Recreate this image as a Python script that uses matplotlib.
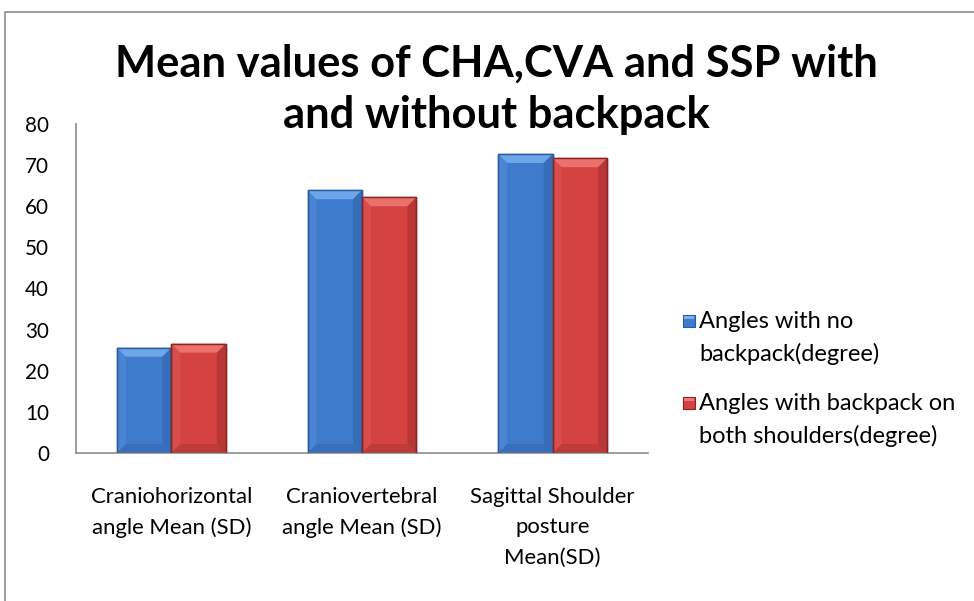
import matplotlib
matplotlib.use("Agg")
import matplotlib.pyplot as plt
from matplotlib.patches import Polygon, Rectangle
import numpy as np

categories = ["Craniohorizontal\nangle Mean (SD)", "Craniovertebral\nangle Mean (SD)", "Sagittal Shoulder\nposture\nMean(SD)"]
no_backpack = [25.6, 63.9, 72.7]
with_backpack = [26.6, 62.2, 71.7]
series_names = ["Angles with no\nbackpack(degree)", "Angles with backpack on\nboth shoulders(degree)"]
yticks = [0, 10, 20, 30, 40, 50, 60, 70, 80]
title_lines = ["Mean values of CHA,CVA and SSP with", "and without backpack"]

plt.rcParams['font.family'] = ['Lato', 'DejaVu Sans']

W, H = 974, 601
fig = plt.figure(figsize=(W/100, H/100), dpi=100)
fig.canvas.draw()
R = fig.canvas.get_renderer()

def fy(py):  # pixel from top -> figure fraction
    return 1 - py / H

def width_px(s, fs, weight='normal'):
    t = fig.text(0, 0, s, fontsize=fs, fontweight=weight)
    w = t.get_window_extent(R).width
    t.remove()
    return w

def fit_size(s, target, weight='normal'):
    return 20 * target / width_px(s, 20, weight)

def line_metrics(fs):
    t1 = fig.text(0, 0, "Ag", fontsize=fs)
    t2 = fig.text(0, 0, "Ag\nAg", fontsize=fs, linespacing=1.0)
    h1 = t1.get_window_extent(R).height
    h2 = t2.get_window_extent(R).height
    t1.remove(); t2.remove()
    return h1, h2 - h1

# outer frame
fig.patches.append(Rectangle((5/W, -0.2), 1.2, 1.2 - 12/H, transform=fig.transFigure,
                             fill=False, edgecolor='#8c8c8c', linewidth=1.2))

ax = fig.add_axes([76/W, fy(453), (648-76)/W, (453-124)/H])
ax.set_xlim(-0.5, 2.5)
ax.set_ylim(0, 80)

bw = 1/3.5
x = np.arange(len(categories))

cols = [dict(main='#3f7bcc', light='#77aef0', dark='#2a569a', edge='#2b5aa0'),
        dict(main='#d44341', light='#f07a76', dark='#8f2624', edge='#8a2422')]

def draw_bevel(ax, x0, w, h, c):
    ax.add_patch(Rectangle((x0, 0), w, h, facecolor=c['main'], edgecolor=c['edge'], linewidth=1.0, zorder=2))
    bp = 9
    inv = ax.transData.inverted()
    p0 = inv.transform(ax.transData.transform((0, 0)))
    p1 = inv.transform(ax.transData.transform((0, 0)) + np.array([bp, bp]))
    dx, dy = p1 - p0
    top = [(x0, h), (x0 + w, h), (x0 + w - dx, h - dy), (x0 + dx, h - dy)]
    left = [(x0, 0), (x0, h), (x0 + dx, h - dy), (x0 + dx, dy)]
    right = [(x0 + w, 0), (x0 + w, h), (x0 + w - dx, h - dy), (x0 + w - dx, dy)]
    bottom = [(x0, 0), (x0 + w, 0), (x0 + w - dx, dy), (x0 + dx, dy)]
    ax.add_patch(Polygon(top, closed=True, facecolor=c['light'], edgecolor='none', alpha=0.85, zorder=3))
    ax.add_patch(Polygon(left, closed=True, facecolor=c['light'], edgecolor='none', alpha=0.2, zorder=3))
    ax.add_patch(Polygon(right, closed=True, facecolor=c['dark'], edgecolor='none', alpha=0.4, zorder=3))
    ax.add_patch(Polygon(bottom, closed=True, facecolor=c['dark'], edgecolor='none', alpha=0.3, zorder=3))
    ax.add_patch(Rectangle((x0, 0), w, h, facecolor='none', edgecolor=c['edge'], linewidth=1.0, zorder=4))

for i in range(len(categories)):
    draw_bevel(ax, x[i] - bw, bw, no_backpack[i], cols[0])
    draw_bevel(ax, x[i], bw, with_backpack[i], cols[1])

for s in ['top', 'right']:
    ax.spines[s].set_visible(False)
for s in ['left', 'bottom']:
    ax.spines[s].set_color('#8c8c8c')
    ax.spines[s].set_linewidth(1.2)

# y tick labels: "80" about 24 px wide, right edge ~27 px left of axis
fs_y = fit_size("80", 24)
ax.set_yticks(yticks)
ax.set_yticklabels([str(v) for v in yticks], fontsize=fs_y)
ax.tick_params(axis='y', length=0, pad=27 * 0.72)

# category labels: "Craniohorizontal" ~162 px wide, lines ~33 px apart, first line centred ~497
fs_x = fit_size("Craniohorizontal", 162)
h1, step = line_metrics(fs_x)
ls_x = 33 / step
ax.set_xticks(x)
ax.set_xticklabels(categories, fontsize=fs_x, linespacing=ls_x, va='top')
pad_px = 497 - h1 / 2 - 453
ax.tick_params(axis='x', length=0, pad=pad_px * 0.72)

# title: first line ~763 px wide, centred at x~496, baselines ~77 and ~128
fs_t = fit_size(title_lines[0], 763, 'bold')
fig.text(496/W, fy(77), title_lines[0], ha='center', va='baseline', fontsize=fs_t, fontweight='bold')
fig.text(496/W, fy(128), title_lines[1], ha='center', va='baseline', fontsize=fs_t, fontweight='bold')

# legend (manual): text starts ~699 px, line centres ~321/355 and ~403/437
fs_l = fit_size("Angles with backpack on", 258)
hl1, stepl = line_metrics(fs_l)
ls_l = 34 / stepl
entry_first_line = [321, 403]
for k in range(2):
    yc = entry_first_line[k] + 17
    fig.text(699/W, fy(yc), series_names[k], ha='left', va='center', fontsize=fs_l,
             linespacing=ls_l)
    fig.patches.append(Rectangle((683/W, fy(entry_first_line[k] + 6)), 12/W, 12/H,
                                 transform=fig.transFigure, facecolor=cols[k]['main'],
                                 edgecolor=cols[k]['edge'], linewidth=0.8))
    fig.patches.append(Rectangle((684/W, fy(entry_first_line[k] - 2)), 10/W, 3/H,
                                 transform=fig.transFigure, facecolor=cols[k]['light'],
                                 edgecolor='none'))

fig.savefig("out.png", dpi=100)
